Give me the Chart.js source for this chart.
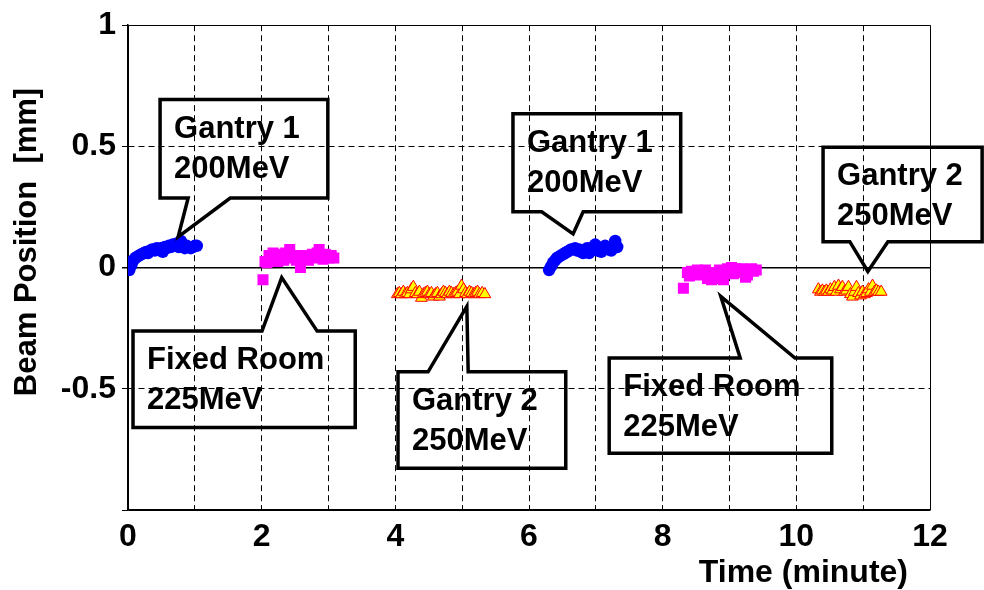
<!DOCTYPE html>
<html>
<head>
    <title>Beam Position</title>
    <script src="https://cdn.jsdelivr.net/npm/chart.js"></script>
    <style>
        body { margin: 0; background: #fff; }
    </style>
</head>
<body>
    <canvas id="myChart" width="984" height="590"></canvas>

    <script>
        // x axis (minutes) and y axis (mm) ranges / ticks
        var xMin = 0, xMax = 12;
        var yMin = -1, yMax = 1;
        var yTickLabels = ['1', '0.5', '0', '-0.5'];

        // Gantry 1 200MeV, first run
        var g1aX = [0.02, 0.05, 0.08, 0.11, 0.14, 0.17, 0.20, 0.24, 0.27, 0.30, 0.33, 0.36, 0.40, 0.43, 0.46, 0.49, 0.52,
                    0.55, 0.58, 0.61, 0.64, 0.67, 0.70, 0.73, 0.76, 0.79, 0.82, 0.85, 0.88, 0.91, 0.94, 0.97, 1.00, 1.03];
        var g1aY = [-0.01, 0.01, 0.03, 0.04, 0.045, 0.05, 0.055, 0.06, 0.065, 0.06, 0.07, 0.075, 0.07, 0.08, 0.075, 0.08, 0.065,
                    0.085, 0.08, 0.09, 0.085, 0.095, 0.09, 0.10, 0.085, 0.11, 0.095, 0.08, 0.09, 0.085, 0.08, 0.085, 0.09, 0.09];

        // Fixed Room 225MeV, first run
        var frAX = [2.02, 2.05, 2.08, 2.11, 2.14, 2.17, 2.20, 2.24, 2.27, 2.30, 2.33, 2.36, 2.39, 2.42, 2.45, 2.48, 2.52, 2.55,
                    2.58, 2.61, 2.64, 2.67, 2.70, 2.73, 2.76, 2.80, 2.83, 2.86, 2.89, 2.92, 2.95, 2.98, 3.01, 3.04, 3.08];
        var frAY = [-0.05, 0.025, 0.02, 0.05, 0.035, 0.06, 0.045, 0.025, 0.055, 0.05, 0.03, 0.06, 0.055, 0.075, 0.05, 0.04, 0.03, 0.05,
                    0.0, 0.035, 0.05, 0.045, 0.03, 0.05, 0.055, 0.04, 0.06, 0.075, 0.05, 0.035, 0.055, 0.05, 0.04, 0.05, 0.04];

        // Gantry 2 250MeV, first run
        var g2aX = [4.03, 4.06, 4.09, 4.12, 4.15, 4.18, 4.21, 4.24, 4.27, 4.30, 4.33, 4.36, 4.39, 4.42, 4.45, 4.48, 4.51, 4.54,
                    4.57, 4.60, 4.63, 4.66, 4.69, 4.72, 4.75, 4.78, 4.81, 4.84, 4.87, 4.90, 4.93, 4.96, 4.99, 5.02, 5.05, 5.08,
                    5.11, 5.14, 5.17, 5.20, 5.23, 5.26, 5.30, 5.34];
        var g2aY = [-0.11, -0.105, -0.11, -0.10, -0.11, -0.105, -0.11, -0.09, -0.08, -0.105, -0.11, -0.10, -0.125, -0.11, -0.105, -0.10, -0.11, -0.105,
                    -0.12, -0.11, -0.105, -0.12, -0.11, -0.10, -0.105, -0.11, -0.10, -0.105, -0.11, -0.105, -0.10, -0.11, -0.075, -0.09, -0.105, -0.11,
                    -0.10, -0.105, -0.11, -0.105, -0.10, -0.11, -0.105, -0.11];

        // Gantry 1 200MeV, second run
        var g1bX = [6.30, 6.33, 6.36, 6.39, 6.42, 6.45, 6.48, 6.51, 6.54, 6.57, 6.60, 6.63, 6.66, 6.69, 6.72, 6.75, 6.78, 6.81,
                    6.84, 6.87, 6.90, 6.93, 6.96, 6.99, 7.02, 7.05, 7.08, 7.11, 7.14, 7.17, 7.20, 7.23, 7.26, 7.29, 7.32];
        var g1bY = [-0.01, 0.005, 0.02, 0.03, 0.04, 0.045, 0.05, 0.055, 0.06, 0.065, 0.07, 0.075, 0.075, 0.08, 0.07, 0.075, 0.065, 0.06,
                    0.07, 0.08, 0.06, 0.075, 0.085, 0.095, 0.07, 0.08, 0.065, 0.085, 0.09, 0.075, 0.08, 0.07, 0.085, 0.11, 0.085];

        // Fixed Room 225MeV, second run
        var frBX = [8.31, 8.37, 8.40, 8.43, 8.46, 8.49, 8.52, 8.55, 8.58, 8.61, 8.64, 8.67, 8.70, 8.73, 8.76, 8.79, 8.82, 8.85,
                    8.88, 8.91, 8.94, 8.97, 9.00, 9.03, 9.06, 9.09, 9.12, 9.15, 9.18, 9.21, 9.24, 9.27, 9.30, 9.33, 9.36, 9.40];
        var frBY = [-0.085, -0.02, -0.035, -0.015, -0.025, -0.02, -0.01, -0.03, -0.015, -0.02, -0.01, -0.045, -0.02, -0.05, -0.03, -0.045, -0.02, -0.01,
                    -0.035, -0.05, -0.02, -0.005, -0.01, 0.0, -0.025, -0.005, -0.01, -0.01, -0.005, -0.02, -0.04, -0.03, -0.01, -0.005, -0.015, -0.01];

        // Gantry 2 250MeV, second run
        var g2bX = [10.33, 10.36, 10.39, 10.42, 10.45, 10.48, 10.51, 10.54, 10.57, 10.60, 10.63, 10.66, 10.69, 10.72, 10.75, 10.78,
                    10.81, 10.84, 10.87, 10.90, 10.93, 10.96, 10.99, 11.02, 11.05, 11.08, 11.11, 11.14, 11.17, 11.20, 11.23, 11.27];
        var g2bY = [-0.09, -0.10, -0.095, -0.10, -0.095, -0.10, -0.09, -0.095, -0.08, -0.10, -0.075, -0.09, -0.08, -0.10, -0.095, -0.08,
                    -0.11, -0.12, -0.10, -0.08, -0.105, -0.115, -0.10, -0.11, -0.105, -0.09, -0.10, -0.075, -0.10, -0.095, -0.10, -0.10];

        // callout labels: box [left, right, top, bottom], pointer base, tip - all in data units
        var callouts = [
            { lines: ['Gantry 1', '200MeV'],     box: [0.48, 2.99, 0.693, 0.287],    side: 'bottom', base: [0.90, 1.53], tip: [0.75, 0.127] },
            { lines: ['Fixed Room', '225MeV'],   box: [0.075, 3.40, -0.262, -0.660], side: 'top',    base: [2.005, 2.83], tip: [2.30, -0.041] },
            { lines: ['Gantry 2', '250MeV'],     box: [4.04, 6.55, -0.430, -0.828],  side: 'top',    base: [4.49, 5.09], tip: [5.07, -0.160] },
            { lines: ['Gantry 1', '200MeV'],     box: [5.76, 8.27, 0.635, 0.230],    side: 'bottom', base: [6.19, 6.81], tip: [6.66, 0.139] },
            { lines: ['Fixed Room', '225MeV'],   box: [7.20, 10.53, -0.373, -0.766], side: 'top',    base: [9.16, 9.98], tip: [8.87, -0.119] },
            { lines: ['Gantry 2', '250MeV'],     box: [10.40, 12.78, 0.496, 0.107],  side: 'bottom', base: [10.80, 11.37], tip: [11.07, -0.016] }
        ];

        var FONT = '"Liberation Sans", Arial, sans-serif';

        function pts(xs, ys) {
            return xs.map(function(x, i) { return { x: x, y: ys[i] }; });
        }

        function circleSet(xs, ys) {
            return { data: pts(xs, ys), pointStyle: 'circle', pointRadius: 6.2,
                     backgroundColor: '#0000ff', borderColor: '#0000ff', borderWidth: 0 };
        }
        function squareSet(xs, ys) {
            return { data: pts(xs, ys), pointStyle: 'rect', pointRadius: 7.8,
                     backgroundColor: '#ff00ff', borderColor: '#ff00ff', borderWidth: 0 };
        }
        function triangleSet(xs, ys) {
            return { data: pts(xs, ys), pointStyle: 'triangle', pointRadius: 6.8,
                     backgroundColor: '#ffff00', borderColor: '#ff0000', borderWidth: 1 };
        }

        // solid frame + zero line, dashed for the rest
        function gridDash(c) {
            if (!c.tick) return [];
            var v = c.tick.value;
            if (v === 0 || v === c.scale.min || v === c.scale.max) return [];
            return [6, 4];
        }

        // draws callout boxes and the two axis titles
        var overlay = {
            id: 'overlay',
            afterDraw: function(chart) {
                var ctx = chart.ctx;
                var sx = chart.scales.x, sy = chart.scales.y;
                var area = chart.chartArea;
                ctx.save();
                ctx.strokeStyle = '#000';
                ctx.fillStyle = '#000';
                ctx.lineWidth = 3.5;
                ctx.lineJoin = 'miter';
                callouts.forEach(function(c) {
                    var L = sx.getPixelForValue(c.box[0]), R = sx.getPixelForValue(c.box[1]);
                    var T = sy.getPixelForValue(c.box[2]), B = sy.getPixelForValue(c.box[3]);
                    var a = sx.getPixelForValue(c.base[0]), b = sx.getPixelForValue(c.base[1]);
                    var tx = sx.getPixelForValue(c.tip[0]), ty = sy.getPixelForValue(c.tip[1]);
                    ctx.beginPath();
                    if (c.side === 'bottom') {
                        ctx.moveTo(L, T); ctx.lineTo(R, T); ctx.lineTo(R, B);
                        ctx.lineTo(b, B); ctx.lineTo(tx, ty); ctx.lineTo(a, B);
                        ctx.lineTo(L, B);
                    } else {
                        ctx.moveTo(L, B); ctx.lineTo(L, T); ctx.lineTo(a, T);
                        ctx.lineTo(tx, ty); ctx.lineTo(b, T); ctx.lineTo(R, T);
                        ctx.lineTo(R, B);
                    }
                    ctx.closePath();
                    ctx.stroke();

                    ctx.font = 'bold 31px ' + FONT;
                    ctx.textAlign = 'left';
                    ctx.textBaseline = 'alphabetic';
                    ctx.fillText(c.lines[0], L + 14, T + 38);
                    ctx.fillText(c.lines[1], L + 14, T + 78);
                });

                // x title, right aligned under the axis
                ctx.font = 'bold 32px ' + FONT;
                ctx.textAlign = 'right';
                ctx.textBaseline = 'middle';
                ctx.fillText('Time (minute)', area.right - 22, 573);

                // y title, rotated
                ctx.translate(27, 242);
                ctx.rotate(-Math.PI / 2);
                ctx.textAlign = 'center';
                ctx.font = 'bold 31px ' + FONT;
                ctx.fillText('Beam Position  [mm]', 0, 0);
                ctx.restore();
            }
        };

        var chart = new Chart(document.getElementById('myChart').getContext('2d'), {
            type: 'scatter',
            data: {
                datasets: [
                    circleSet(g1aX, g1aY),
                    squareSet(frAX, frAY),
                    triangleSet(g2aX, g2aY),
                    circleSet(g1bX, g1bY),
                    squareSet(frBX, frBY),
                    triangleSet(g2bX, g2bY)
                ]
            },
            options: {
                responsive: false,
                animation: false,
                devicePixelRatio: 1,
                layout: { padding: { top: 22, right: 54, left: 0, bottom: 0 } },
                plugins: { legend: { display: false }, tooltip: { enabled: false } },
                scales: {
                    x: {
                        type: 'linear',
                        min: xMin, max: xMax,
                        afterFit: function(s) { s.height = 80; },
                        ticks: {
                            stepSize: 1,
                            color: '#000',
                            padding: 8,
                            maxRotation: 0,
                            font: { family: FONT, size: 32, weight: 'bold' },
                            callback: function(v) { return v % 2 === 0 ? String(v) : ''; }
                        },
                        grid: { color: '#000', lineWidth: 1, drawTicks: false },
                        border: { color: '#000', width: 1.5, dash: gridDash }
                    },
                    y: {
                        min: yMin, max: yMax,
                        afterFit: function(s) { s.width = 128; },
                        ticks: {
                            stepSize: 0.5,
                            color: '#000',
                            padding: 6,
                            font: { family: FONT, size: 32, weight: 'bold' },
                            callback: function(v) { return yTickLabels.indexOf(String(v)) >= 0 ? String(v) : ''; }
                        },
                        grid: { color: '#000', lineWidth: function(c) { return c.tick && c.tick.value === 0 ? 1.5 : 1; }, tickLength: 6 },
                        border: { color: '#000', width: 1.5, dash: gridDash }
                    }
                }
            },
            plugins: [overlay]
        });
    </script>
</body>
</html>
